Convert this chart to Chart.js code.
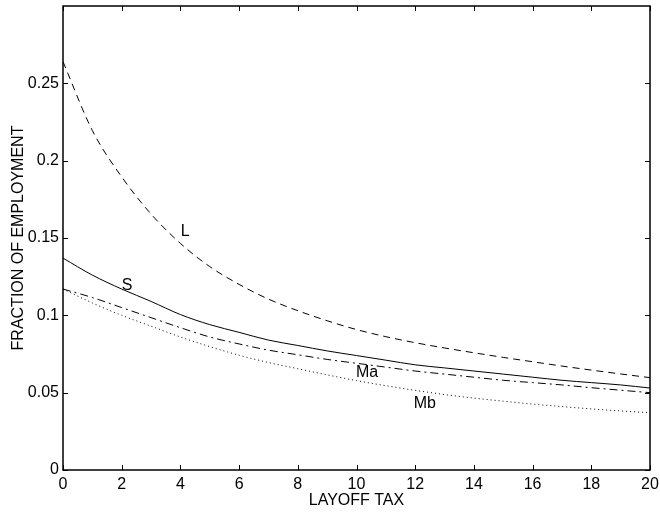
<!DOCTYPE html>
<html>
<head>
<meta charset="utf-8">
<script src="https://cdn.jsdelivr.net/npm/chart.js@4.4.1/dist/chart.umd.min.js"></script>
<style>
  html, body { margin: 0; padding: 0; background: #fff; }
  #wrap { width: 660px; height: 514px; position: relative; }
</style>
</head>
<body>
<div id="wrap"><canvas id="chart"></canvas></div>
<script>
// layoff tax values on the x axis
const taxes = [0, 1, 2, 3, 4, 5, 6, 7, 8, 9, 10, 11, 12, 13, 14, 15, 16, 17, 18, 19, 20];

// fraction of employment, one list per curve
const seriesL = [0.264, 0.2195, 0.1895, 0.1655, 0.1465, 0.1315, 0.120, 0.1105, 0.103, 0.0965, 0.0908,
                 0.0862, 0.0823, 0.0789, 0.0758, 0.0728, 0.070, 0.0672, 0.0646, 0.0621, 0.0597];
const seriesS = [0.137, 0.126, 0.117, 0.109, 0.1005, 0.094, 0.089, 0.084, 0.0805, 0.077, 0.074,
                 0.071, 0.068, 0.066, 0.064, 0.062, 0.060, 0.058, 0.0565, 0.055, 0.053];
const seriesMa = [0.117, 0.1115, 0.105, 0.0985, 0.092, 0.086, 0.0815, 0.0775, 0.0745, 0.0715, 0.069,
                  0.0665, 0.064, 0.062, 0.060, 0.058, 0.0565, 0.055, 0.0532, 0.0516, 0.050];
const seriesMb = [0.117, 0.108, 0.100, 0.093, 0.086, 0.0798, 0.0742, 0.0695, 0.0655, 0.0615, 0.0578,
                  0.0545, 0.0515, 0.0488, 0.0465, 0.0445, 0.0426, 0.041, 0.0395, 0.0382, 0.037];

// curve names and where they are written (data coordinates)
const curveNames = ["L", "S", "Ma", "Mb"];
const nameX = [4.16, 2.18, 10.36, 12.33];
const nameY = [0.154, 0.119, 0.063, 0.0429];

const xTicks = [0, 2, 4, 6, 8, 10, 12, 14, 16, 18, 20];
const yTicks = [0, 0.05, 0.1, 0.15, 0.2, 0.25];

const FONT = "'Liberation Sans', Arial, sans-serif";

function pts(ys) {
    return taxes.map((x, i) => ({ x: x, y: ys[i] }));
}

function line(label, ys, dash) {
    return {
        label: label,
        data: pts(ys),
        borderColor: "#000",
        borderWidth: 1,
        borderDash: dash,
        pointRadius: 0,
        fill: false,
        cubicInterpolationMode: "monotone"
    };
}

// box around the plot, inward ticks on all four sides, curve names
const matlabAxes = {
    id: "matlabAxes",
    afterDatasetsDraw(chart) {
        const ctx = chart.ctx;
        const a = chart.chartArea;
        const xs = chart.scales.x;
        const ys = chart.scales.y;
        const len = 5;
        ctx.save();
        ctx.strokeStyle = "#000";
        ctx.lineWidth = 1;
        ctx.beginPath();
        xTicks.forEach(v => {
            const px = Math.round(xs.getPixelForValue(v)) + 0.5;
            ctx.moveTo(px, a.bottom); ctx.lineTo(px, a.bottom - len);
            ctx.moveTo(px, a.top); ctx.lineTo(px, a.top + len);
        });
        yTicks.forEach(v => {
            const py = Math.round(ys.getPixelForValue(v)) + 0.5;
            ctx.moveTo(a.left, py); ctx.lineTo(a.left + len, py);
            ctx.moveTo(a.right, py); ctx.lineTo(a.right - len, py);
        });
        ctx.stroke();
        ctx.lineWidth = 1.5;
        ctx.strokeRect(a.left, a.top, a.right - a.left, a.bottom - a.top);

        ctx.fillStyle = "#000";
        ctx.font = "16px " + FONT;
        ctx.textAlign = "center";
        ctx.textBaseline = "middle";
        curveNames.forEach((n, i) => {
            ctx.fillText(n, xs.getPixelForValue(nameX[i]), ys.getPixelForValue(nameY[i]));
        });
        ctx.restore();
    }
};

Chart.defaults.font.family = FONT;
Chart.defaults.font.size = 16;
Chart.defaults.color = "#000";

new Chart(document.getElementById("chart"), {
    type: "line",
    data: {
        datasets: [
            line("L", seriesL, [7, 5]),
            line("S", seriesS, []),
            line("Ma", seriesMa, [8, 4, 2, 4]),
            line("Mb", seriesMb, [1, 3])
        ]
    },
    options: {
        responsive: true,
        maintainAspectRatio: false,
        animation: false,
        layout: { padding: { top: 6, right: 10, left: 0, bottom: 0 } },
        plugins: {
            legend: { display: false },
            tooltip: { enabled: false }
        },
        scales: {
            x: {
                type: "linear",
                min: 0,
                max: 20,
                afterBuildTicks: s => { s.ticks = xTicks.map(v => ({ value: v })); },
                afterFit: s => { s.height = 44; s.paddingLeft = 0; s.paddingRight = 0; },
                grid: { display: false, drawTicks: false },
                border: { display: false },
                ticks: { padding: 5, maxRotation: 0, autoSkip: false },
                title: {
                    display: true,
                    text: "LAYOFF TAX",
                    padding: { top: 0, bottom: 4 }
                }
            },
            y: {
                type: "linear",
                min: 0,
                max: 0.3,
                afterBuildTicks: s => { s.ticks = yTicks.map(v => ({ value: v })); },
                afterFit: s => { s.width = 63; s.paddingTop = 0; s.paddingBottom = 0; },
                grid: { display: false, drawTicks: false },
                border: { display: false },
                ticks: { padding: 4, autoSkip: false, callback: v => String(v) },
                title: {
                    display: true,
                    text: "FRACTION OF EMPLOYMENT",
                    padding: { top: 9, bottom: 0 }
                }
            }
        }
    },
    plugins: [matlabAxes]
});
</script>
</body>
</html>
